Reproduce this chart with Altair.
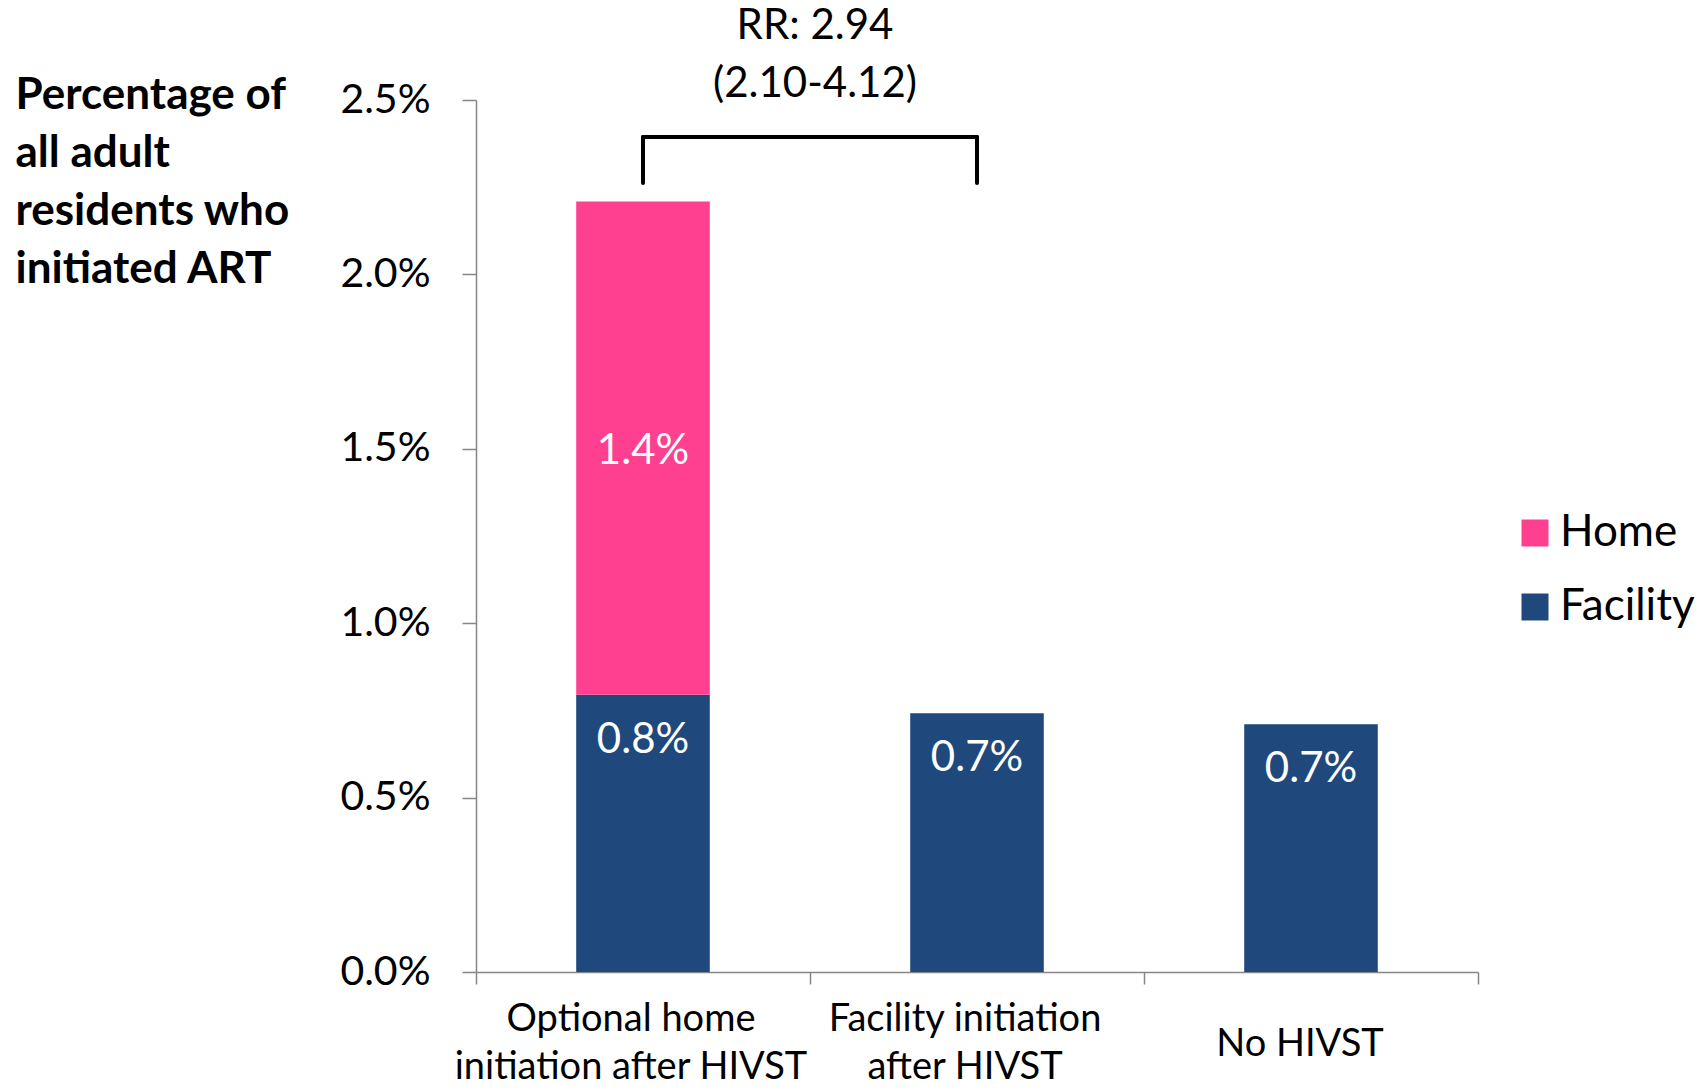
import altair as alt
import pandas as pd

# ---- data ----
categories = ["Optional home|initiation after HIVST", "Facility initiation|after HIVST", "No HIVST"]
series = ["Home", "Facility"]
series_colors = ["#FF4090", "#1F497D"]
facility_values = [0.00795, 0.00742, 0.00710]
home_values = [0.01414, None, None]
y_ticks = [0.0, 0.005, 0.01, 0.015, 0.02, 0.025]
y_title = ["Percentage of", "all adult", "residents who", "initiated ART"]

rr_text = ["RR: 2.94", "(2.10-4.12)"]
rr_y = 0.02712
bracket_cats = [categories[0], categories[1]]
bracket_top = 0.02394
bracket_bottom = 0.02262

# ---- tables ----
rows = []
for c, f, h in zip(categories, facility_values, home_values):
    rows.append({"category": c, "series": "Facility", "value": f, "stack_order": 0})
    if h is not None:
        rows.append({"category": c, "series": "Home", "value": h, "stack_order": 1})
df = pd.DataFrame(rows)
cat_df = pd.DataFrame({"category": categories})

bracket_h = pd.DataFrame({"from": [bracket_cats[0]], "to": [bracket_cats[1]], "top": [bracket_top]})
bracket_v = pd.DataFrame({"cat": bracket_cats, "bottom": [bracket_bottom] * 2, "top": [bracket_top] * 2})
rr_df = pd.DataFrame({"cat": [bracket_cats[0]], "y": [rr_y], "text": [rr_text]})

FONT = "Lato"
AXIS_GREY = "#868686"
PLOT_W, PLOT_H = 1002, 872

x_scale = alt.Scale(domain=categories, paddingInner=0, paddingOuter=0)
y_scale = alt.Scale(domain=[0, 0.025], nice=False)

x_axis = alt.Axis(
    title=None, labels=False, tickBand="extent",
    domainColor=AXIS_GREY, tickColor=AXIS_GREY, tickSize=12, domainWidth=1.5, tickWidth=1.5,
    grid=False,
)
y_axis = alt.Axis(
    values=y_ticks, format=".1%", title=y_title, titleAngle=0, titleAlign="left",
    titleBaseline="alphabetic", titleX=-461, titleY=8, titleFont=FONT, titleFontWeight="bold",
    titleFontSize=44, titleLineHeight=58, titleColor="black",
    labelFont=FONT, labelFontSize=41, labelColor="black", labelPadding=32,
    tickSize=14, domainColor=AXIS_GREY, tickColor=AXIS_GREY, domainWidth=1.5, tickWidth=1.5, grid=False,
)

bars = alt.Chart(df).mark_bar(width=alt.RelativeBandSize(0.4)).encode(
    x=alt.X("category:N", scale=x_scale, axis=x_axis, sort=categories),
    y=alt.Y("value:Q", stack="zero", scale=y_scale, axis=y_axis),
    color=alt.Color(
        "series:N",
        scale=alt.Scale(domain=series, range=series_colors),
        legend=alt.Legend(
            orient="none", legendX=1037, legendY=411, title=None, symbolType="square",
            symbolSize=729, symbolStrokeWidth=0, symbolOpacity=1, labelFont=FONT,
            labelFontSize=44, labelColor="black", labelOffset=3, rowPadding=30, padding=0,
            labelLimit=0,
        ),
    ),
    order=alt.Order("stack_order:Q"),
)

stacked = alt.Chart(df).transform_stack(
    stack="value", groupby=["category"], as_=["v0", "v1"],
    sort=[alt.SortField("stack_order", order="ascending")],
).transform_calculate(mid="(datum.v0 + datum.v1) / 2")

home_labels = stacked.transform_filter(alt.datum.series == "Home").mark_text(
    font=FONT, fontSize=42, color="white", baseline="middle", align="center", dy=3
).encode(
    x=alt.X("category:N", scale=x_scale),
    y=alt.Y("mid:Q", scale=y_scale),
    text=alt.Text("value:Q", format=".1%"),
)

fac_labels = stacked.transform_filter(alt.datum.series == "Facility").mark_text(
    font=FONT, fontSize=42, color="white", baseline="middle", align="center", dy=45
).encode(
    x=alt.X("category:N", scale=x_scale),
    y=alt.Y("v1:Q", scale=y_scale),
    text=alt.Text("value:Q", format=".1%"),
)

# category labels (drawn as text so one- and two-line labels can be centred differently)
cat_base = alt.Chart(cat_df).transform_calculate(lines="split(datum.category, '|')")
cat_two = cat_base.transform_filter("indexof(datum.category, '|') >= 0").mark_text(
    font=FONT, fontSize=38, color="black", baseline="middle", align="center", lineHeight=48, dx=-12
).encode(
    x=alt.X("category:N", scale=x_scale),
    y=alt.value(PLOT_H + 48),
    text="lines:N",
)
cat_one = cat_base.transform_filter("indexof(datum.category, '|') < 0").mark_text(
    font=FONT, fontSize=38, color="black", baseline="middle", align="center", dx=-11
).encode(
    x=alt.X("category:N", scale=x_scale),
    y=alt.value(PLOT_H + 73),
    text="category:N",
)

br_h = alt.Chart(bracket_h).mark_rule(color="black", strokeWidth=4, strokeCap="round").encode(
    x=alt.X("from:N", scale=x_scale), x2="to:N", y=alt.Y("top:Q", scale=y_scale)
)
br_v = alt.Chart(bracket_v).mark_rule(color="black", strokeWidth=4, strokeCap="round").encode(
    x=alt.X("cat:N", scale=x_scale), y=alt.Y("bottom:Q", scale=y_scale), y2="top:Q"
)

rr = alt.Chart(rr_df).mark_text(
    font=FONT, fontSize=42, color="black", baseline="middle", align="center", dx=172, lineHeight=58
).encode(
    x=alt.X("cat:N", scale=x_scale),
    y=alt.Y("y:Q", scale=y_scale),
    text="text",
)

chart = alt.layer(bars, home_labels, fac_labels, cat_two, cat_one, br_h, br_v, rr).properties(
    width=PLOT_W, height=PLOT_H,
    padding={"left": 468, "top": 92, "right": 222, "bottom": 109},
    autosize=alt.AutoSizeParams(type="none"),
    background="white",
).configure_view(stroke=None)

chart.save("out.html", embed_options={"renderer": "svg", "actions": False})
